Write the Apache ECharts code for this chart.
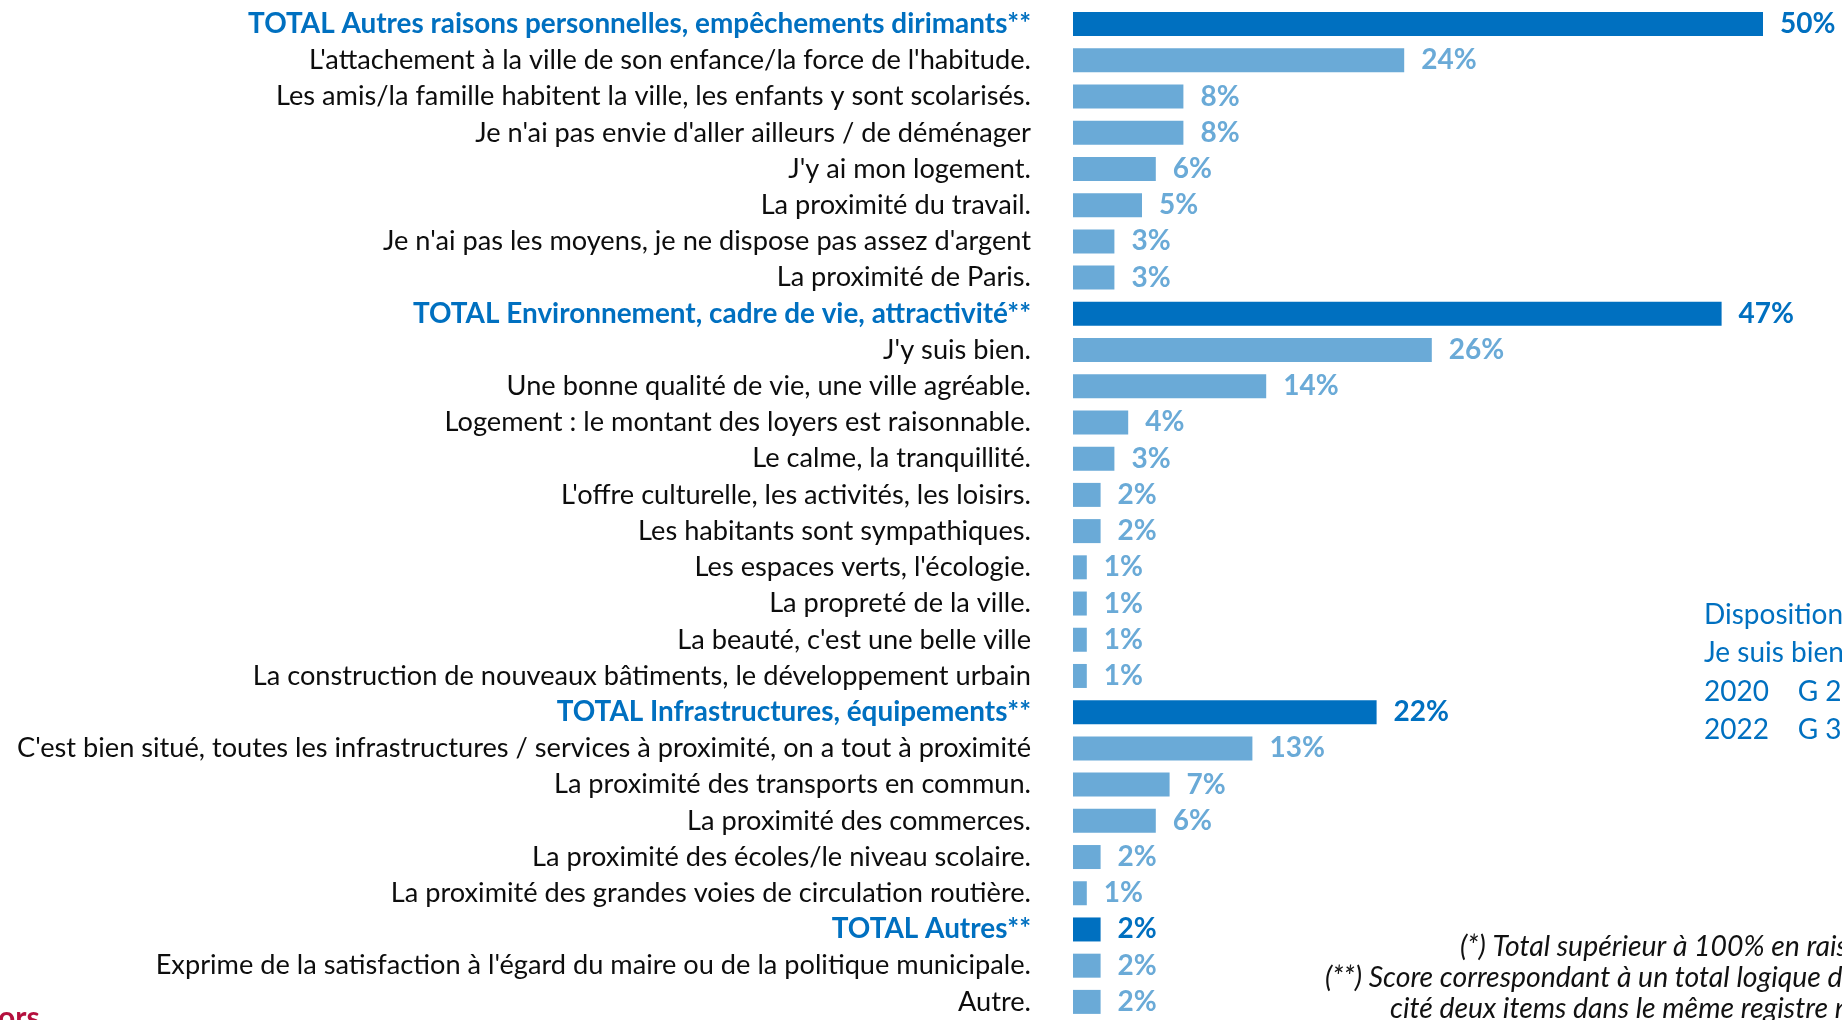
<!DOCTYPE html>
<html>
<head>
<meta charset="utf-8">
<script src="https://cdn.jsdelivr.net/npm/echarts@6/dist/echarts.min.js"></script>
<style>
html,body{margin:0;padding:0;background:#fff;overflow:hidden;}
#c{width:1842px;height:1020px;}
</style>
</head>
<body>
<div id="c"></div>
<script>
const categories = [
  "TOTAL Autres raisons personnelles, empêchements dirimants**",
  "L'attachement à la ville de son enfance/la force de l'habitude.",
  "Les amis/la famille habitent la ville, les enfants y sont scolarisés.",
  "Je n'ai pas envie d'aller ailleurs / de déménager",
  "J'y ai mon logement.",
  "La proximité du travail.",
  "Je n'ai pas les moyens, je ne dispose pas assez d'argent",
  "La proximité de Paris.",
  "TOTAL Environnement, cadre de vie, attractivité**",
  "J'y suis bien.",
  "Une bonne qualité de vie, une ville agréable.",
  "Logement : le montant des loyers est raisonnable.",
  "Le calme, la tranquillité.",
  "L'offre culturelle, les activités, les loisirs.",
  "Les habitants sont sympathiques.",
  "Les espaces verts, l'écologie.",
  "La propreté de la ville.",
  "La beauté, c'est une belle ville",
  "La construction de nouveaux bâtiments, le développement urbain",
  "TOTAL Infrastructures, équipements**",
  "C'est bien situé, toutes les infrastructures / services à proximité, on a tout à proximité",
  "La proximité des transports en commun.",
  "La proximité des commerces.",
  "La proximité des écoles/le niveau scolaire.",
  "La proximité des grandes voies de circulation routière.",
  "TOTAL Autres**",
  "Exprime de la satisfaction à l'égard du maire ou de la politique municipale.",
  "Autre."
];
const values = [50, 24, 8, 8, 6, 5, 3, 3, 47, 26, 14, 4, 3, 2, 2, 1, 1, 1, 1, 22, 13, 7, 6, 2, 1, 2, 2, 2];
const sideNote = ["Disposition", "Je suis bien", "2020    G 2", "2022    G 3"];
const footnotes = [
  "(*) Total supérieur à 100% en raison",
  "(**) Score correspondant à un total logique d",
  "cité deux items dans le même registre n'é"
];
const logoText = "ors";

const DARK = '#0070C0', LIGHT = '#6AAAD7';
const FONT = 'Lato';
const isTotal = c => c.indexOf('TOTAL') === 0;

const mctx = document.createElement('canvas').getContext('2d');
function measure(text, font) { mctx.font = font; return mctx.measureText(text).width; }
// fit label font size so the longest label has the reference width
const longest = categories[20];
const catSize = Math.round(100 * 1016 / measure(longest, '100px ' + FONT) * 10) / 10;
const totSize = Math.round(catSize * 1.025 * 10) / 10;
const fnSize = Math.round(100 * 517 / measure(footnotes[1], 'italic 100px ' + FONT) * 10) / 10;

const chart = echarts.init(document.getElementById('c'), null, {renderer: 'canvas'});
const PX = 13.8;
const XMAX = 55;
chart.setOption({
  animation: false,
  grid: {left: 1073, top: 6, width: XMAX * PX, height: 28 * 36.4, containLabel: false},
  xAxis: {type: 'value', min: 0, max: XMAX, show: false},
  yAxis: {
    type: 'category', inverse: true, data: categories,
    axisLine: {show: false}, axisTick: {show: false}, splitLine: {show: false},
    axisLabel: {
      margin: 42, interval: 0,
      formatter: v => isTotal(v) ? '{t|' + v + '}' : '{n|' + v + '}',
      rich: {
        t: {fontFamily: FONT, fontSize: totSize, fontWeight: 'bold', color: DARK},
        n: {fontFamily: FONT, fontSize: catSize, color: '#0d0d0d'}
      }
    }
  },
  series: [{
    type: 'bar', barWidth: 24,
    data: values.map((v, i) => ({
      value: v,
      itemStyle: {color: isTotal(categories[i]) ? DARK : LIGHT},
      label: {color: isTotal(categories[i]) ? DARK : LIGHT}
    })),
    label: {show: true, position: 'right', distance: 17, formatter: '{c}%',
      fontFamily: FONT, fontWeight: 'bold', fontSize: 28}
  }],
  graphic: [
    ...sideNote.map((t, i) => ({
      type: 'text', left: 1704, top: 601 + i * 38.3,
      style: {text: t, fontFamily: FONT, fontSize: 28, fill: DARK}
    })),
    {type: 'text', left: 1460, top: 933, style: {text: footnotes[0], fontFamily: FONT, fontStyle: 'italic', fontSize: fnSize, fill: '#111'}},
    {type: 'text', left: 1325, top: 964, style: {text: footnotes[1], fontFamily: FONT, fontStyle: 'italic', fontSize: fnSize, fill: '#111'}},
    {type: 'text', left: 1390, top: 995, style: {text: footnotes[2], fontFamily: FONT, fontStyle: 'italic', fontSize: fnSize, fill: '#111'}},
    {type: 'text', left: -2, top: 1003, style: {text: logoText, fontFamily: FONT, fontWeight: 'bold', fontSize: 30, fill: '#B5103E'}}
  ]
});
</script>
</body>
</html>
